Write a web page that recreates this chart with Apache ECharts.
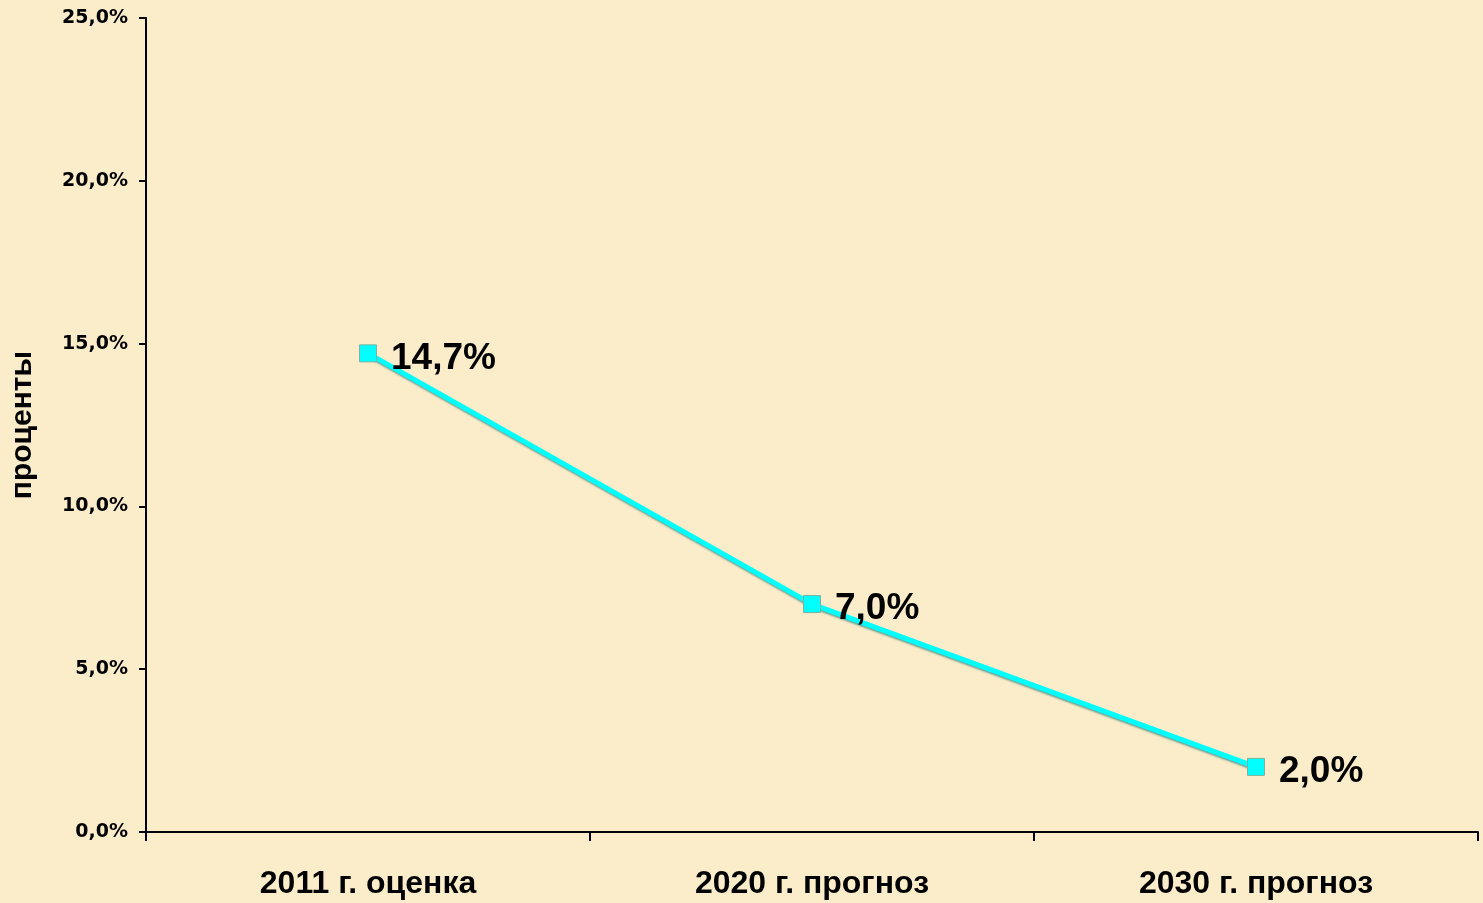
<!DOCTYPE html>
<html>
<head>
<meta charset="UTF-8">
<title></title>
<script src="https://cdn.jsdelivr.net/npm/echarts@6/dist/echarts.min.js"></script>
<style>
	html,body{margin:0;padding:0;background:#fcedca;}
	#main{width:1483px;height:903px;}
</style>
</head>
<body>
<div id="main"></div>
<script type="text/javascript">
var categories = ['2011 г. оценка', '2020 г. прогноз', '2030 г. прогноз'];
var values = [14.7, 7.0, 2.0];
var yTicks = [0, 5, 10, 15, 20, 25];

function pct(v){
	return v.toFixed(1).replace('.', ',') + '%';
}

var myChart = echarts.init(document.getElementById('main'));
myChart.setOption({
	backgroundColor: '#fcedca',
	animation: false,
	grid: {left: 144, right: 5, top: 18, bottom: 71},
	xAxis: {
		type: 'category',
		data: categories,
		boundaryGap: true,
		axisLine: {lineStyle: {color: '#000', width: 2}},
		axisTick: {show: true, length: 9, lineStyle: {color: '#000', width: 2}},
		axisLabel: {
			color: '#000', fontFamily: 'Liberation Sans, Arial', fontWeight: 'bold',
			fontSize: 32, margin: 36
		}
	},
	yAxis: {
		type: 'value',
		min: yTicks[0],
		max: yTicks[yTicks.length - 1],
		interval: 5,
		name: 'проценты',
		nameLocation: 'middle',
		nameGap: 108,
		nameRotate: 90,
		nameTextStyle: {color: '#000', fontFamily: 'Liberation Sans, Arial', fontWeight: 'bold', fontSize: 30},
		splitLine: {show: false},
		axisLine: {show: true, lineStyle: {color: '#000', width: 2}},
		axisTick: {show: true, length: 7, lineStyle: {color: '#000', width: 2}},
		axisLabel: {
			color: '#000', fontFamily: 'DejaVu Sans, Verdana', fontWeight: 'bold',
			fontSize: 19, margin: 18,
			formatter: function(v){ return pct(v); }
		}
	},
	series: [{
		type: 'line',
		data: values,
		symbol: 'rect',
		symbolSize: 17,
		lineStyle: {color: '#00ffff', width: 5, shadowColor: 'rgba(0,110,110,0.6)', shadowBlur: 2, shadowOffsetX: 1, shadowOffsetY: 2},
		itemStyle: {color: '#00ffff', borderColor: '#7fb0a0', borderWidth: 1},
		label: {
			show: true,
			position: 'right',
			distance: 14,
			offset: [0, 5],
			color: '#000',
			fontFamily: 'Liberation Sans, Arial',
			fontWeight: 'bold',
			fontSize: 37,
			formatter: function(p){ return pct(p.value); }
		}
	}]
});
</script>
</body>
</html>
